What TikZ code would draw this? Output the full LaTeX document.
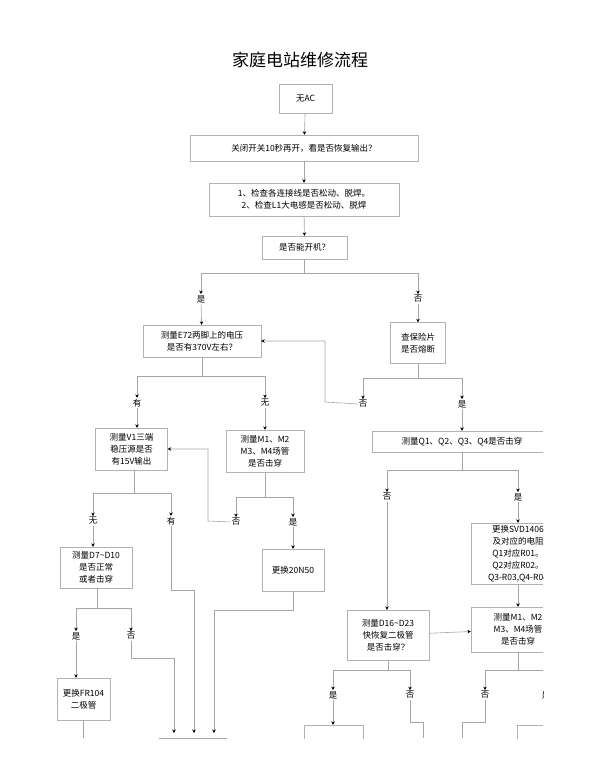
\documentclass[tikz,border=0pt]{standalone}
\usepackage{fontspec}
\setmainfont{Noto Sans CJK SC}
\newfontfamily\cjk{Noto Sans CJK SC}
\usetikzlibrary{arrows.meta}

\begin{document}
\begin{tikzpicture}[x=1pt, y=-1pt, font=\cjk\fontsize{8.5}{12}\selectfont,
  box/.style={draw=gray!60, fill=white, align=center, inner sep=0pt},
  lab/.style={inner sep=1pt},
  line/.style={draw=gray!70, line width=0.6pt},
  >={Stealth[length=3.5pt, width=3.5pt, black]}]
\useasboundingbox (0,0) rectangle (600,768);
\clip (0,0) rectangle (543,738);

\node[font=\cjk\fontsize{17}{20}\selectfont] (title) at (300,60) {家庭电站维修流程};

% main column
\node[box, minimum width=53, minimum height=29] (ac) at (305.5,98.5) {无AC};
\node[box, minimum width=228, minimum height=26] (close) at (304,148) {关闭开关10秒再开，看是否恢复输出？};
\node[box, minimum width=190, minimum height=33] (check) at (304,199.5) {1、检查各连接线是否松动、脱焊。\\2、检查L1大电感是否松动、脱焊};
\node[box, minimum width=85, minimum height=23] (boot) at (304.5,247.5) {是否能开机？};

\node[lab] (bootyes) at (201,299) {是};
\node[lab] (bootno) at (418,299) {否};

% left branch
\node[box, minimum width=118, minimum height=32] (e72) at (202,341) {测量E72两脚上的电压\\是否有370V左右？};
\node[lab] (e72yes) at (137,403) {有};
\node[lab] (e72no) at (265,403) {无};
\node[box, minimum width=72, minimum height=42] (v1) at (131.5,449) {测量V1三端\\稳压源是否\\有15V输出};
\node[box, minimum width=78, minimum height=42] (m1) at (265,451) {测量M1、M2\\M3、M4场管\\是否击穿};
\node[lab] (m1no) at (236,522) {否};
\node[lab] (m1yes) at (293,522) {是};
\node[box, minimum width=62, minimum height=42] (n50) at (293,570) {更换20N50};
\node[lab] (v1no) at (93,521) {无};
\node[lab] (v1yes) at (171,521) {有};
\node[box, minimum width=72, minimum height=41] (d7) at (96,567.5) {测量D7\textasciitilde D10\\是否正常\\或者击穿};
\node[lab] (d7yes) at (76,636) {是};
\node[lab] (d7no) at (131,636) {否};
\node[box, minimum width=53, minimum height=42] (fr) at (83.5,699) {更换FR104\\二极管};

% right branch
\node[box, minimum width=55, minimum height=41] (fuse) at (418,343) {查保险片\\是否熔断};
\node[lab] (fuseno) at (363,404) {否};
\node[lab] (fuseyes) at (462,404) {是};
\node[box, minimum width=180, minimum height=21] (q) at (462,441.5) {测量Q1、Q2、Q3、Q4是否击穿};
\node[lab] (qno) at (387,497) {否};
\node[lab] (qyes) at (518,497) {是};
\node[box, minimum width=94, minimum height=61] (svd) at (518,553.5) {更换SVD1406\\及对应的电阻\\Q1对应R01。\\Q2对应R02。\\Q3-R03,Q4-R04};
\node[box, minimum width=94, minimum height=45] (m2) at (518,629.5) {测量M1、M2\\M3、M4场管\\是否击穿};
\node[box, minimum width=82, minimum height=50] (d16) at (388,635) {测量D16\textasciitilde D23\\快恢复二极管\\是否击穿？};
\node[lab] (d16yes) at (333,695) {是};
\node[lab] (d16no) at (410,695) {否};
\node[lab] (m2no) at (485,695) {否};
\node[lab] (m2yes) at (546,695) {是};
\node[box, minimum width=59, minimum height=40] (sf) at (333.5,745) {更换SF20};
\node[box, minimum width=58, minimum height=40] (last) at (546,745) {更换};

% split points and bends
\coordinate (bootsp) at (304.5,273);
\coordinate (e72sp) at (202,376);
\coordinate (fusesp) at (418,378);
\coordinate (m1sp) at (265,497);
\coordinate (v1sp) at (134,493);
\coordinate (d7sp) at (97,608);
\coordinate (qsp) at (462,470);
\coordinate (d16sp) at (388,670);
\coordinate (m2sp) at (518,670);
\coordinate (bus) at (194,738);

\draw[->, line] (ac) -- (close);
\draw[->, line] (close) -- (check);
\draw[->, line] (check) -- (boot);
\draw[line] (boot) -- (bootsp);
\draw[->, line] (bootsp) -| (bootyes);
\draw[->, line] (bootsp) -| (bootno);
\draw[->, line] (bootyes) -- (e72);
\draw[->, line] (bootno) -- (fuse);

\draw[line] (e72) -- (e72sp);
\draw[->, line] (e72sp) -| (e72yes);
\draw[->, line] (e72sp) -| (e72no);
\draw[->, line] (e72yes) -- (e72yes |- v1.north);
\draw[->, line] (e72no) -- (m1);
\draw[line] (m1) -- (m1sp);
\draw[->, line] (m1sp) -| (m1no);
\draw[->, line] (m1sp) -| (m1yes);
\draw[->, line] (m1no.west) -- (208,521) |- (v1.east);
\draw[->, line] (m1yes) -- (n50);
\draw[->, line] (n50) -- (293,610) -| (214,733);

\draw[line] (v1.south -| v1sp) -- (v1sp);
\draw[->, line] (v1sp) -| (v1no);
\draw[->, line] (v1sp) -| (v1yes);
\draw[->, line] (v1no) -- (v1no |- d7.north);
\draw[->, line] (v1yes) |- (194,590) -- (194,733);
\draw[line] (d7.south -| d7sp) -- (d7sp);
\draw[->, line] (d7sp) -| (d7yes);
\draw[->, line] (d7sp) -| (d7no);
\draw[->, line] (d7yes) -- (d7yes |- fr.north);
\draw[->, line] (d7no) |- (174,658) -- (174,733);
\draw[line] (fr.south) -- (fr.south |- bus);
\draw[line] (159,738) -- (227,738);

\draw[line] (fuse) -- (fusesp);
\draw[->, line] (fusesp) -| (fuseno);
\draw[->, line] (fusesp) -| (fuseyes);
\draw[->, line] (fuseno.west) -- (325,402) |- (e72.east);
\draw[->, line] (fuseyes) -- (q);
\draw[line] (q) -- (qsp);
\draw[->, line] (qsp) -| (qno);
\draw[->, line] (qsp) -| (qyes);
\draw[->, line] (qyes) -- (svd);
\draw[->, line] (svd) -- (m2);
\draw[->, line] (qno) -- (qno |- d16.north);
\draw[->, line] (d16) -- (m2);
\draw[line] (d16) -- (d16sp);
\draw[->, line] (d16sp) -| (d16yes);
\draw[->, line] (d16sp) -| (d16no);
\draw[->, line] (d16yes) -- (d16yes |- sf.north);
\draw[line] (d16no) |- (423,722) -- (423,738);
\draw[line] (m2) -- (m2sp);
\draw[->, line] (m2sp) -| (m2no);
\draw[->, line] (m2sp) -| (m2yes);
\draw[line] (m2no) |- (462,722) -- (462,738);
\draw[->, line] (m2yes) -- (last);
\end{tikzpicture}
\end{document}
